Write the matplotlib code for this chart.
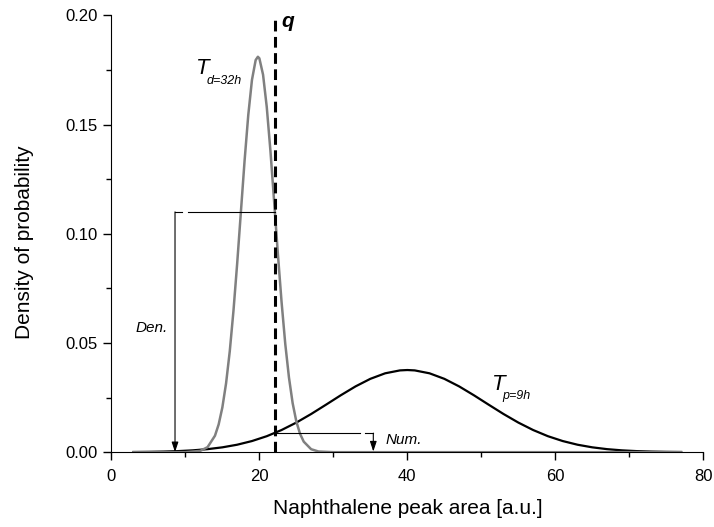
import matplotlib
matplotlib.use("Agg")
import matplotlib.pyplot as plt
from matplotlib.ticker import MultipleLocator

plt.rcParams["font.family"] = ["Liberation Sans", "DejaVu Sans"]

# density
x_d = [3, 10, 12, 13, 14, 14.5, 15, 15.5, 16, 16.5, 17, 17.5, 18, 18.5, 19, 19.5,
       19.8, 20, 20.5, 21, 21.5, 22, 22.5, 23, 23.5, 24, 24.5, 25, 25.5, 26,
       27, 28, 30, 77]
y_d = [0.0, 0.0, 0.00058, 0.00229, 0.00753, 0.01272, 0.0205, 0.0315, 0.0462, 0.0647,
       0.0863, 0.1098, 0.1333, 0.1543, 0.1704, 0.1795, 0.181, 0.1803, 0.1728,
       0.1580, 0.1378, 0.1146, 0.0909, 0.0688, 0.0496, 0.0342, 0.0224, 0.0140,
       0.0084, 0.0048, 0.00135, 0.0003, 0.0, 0.0]

x_p = [3, 5, 7, 9, 11, 13, 15, 17, 19, 21, 23, 25, 27, 29, 31, 33, 35, 37, 39,
       40, 41, 43, 45, 47, 49, 51, 53, 55, 57, 59, 61, 63, 65, 67, 69, 71, 73,
       75, 77]
y_p = [0.0000756, 0.000145, 0.000269, 0.000481, 0.00083, 0.00138, 0.00221,
       0.00341, 0.00509, 0.00731, 0.01014, 0.01355, 0.01747, 0.02172, 0.02604,
       0.03011, 0.03357, 0.0361, 0.03743, 0.0376, 0.03743, 0.0361, 0.03357,
       0.03011, 0.02604, 0.02172, 0.01747, 0.01355, 0.01014, 0.00731, 0.00509,
       0.00341, 0.00221, 0.00138, 0.00083, 0.000481, 0.000269, 0.000145,
       0.0000756]

q = 22.1
den_y = 0.110
num_y = 0.0087

fig = plt.figure(figsize=(7.14, 5.27), dpi=100)
ax = fig.add_axes([0.156, 0.142, 0.829, 0.829])

ax.plot(x_p, y_p, color="black", lw=1.6)
ax.plot(x_d, y_d, color="#808080", lw=1.8)
ax.axvline(q, color="black", lw=2.2, ls=(0, (3.5, 1.8)))

arrow = dict(arrowstyle="-|>,head_length=0.6,head_width=0.2",
             color="black", lw=0.8, shrinkA=0, shrinkB=0)

# Den. bracket
ax.plot([8.6, 9.6], [den_y, den_y], color="black", lw=0.8)
ax.plot([10.4, q], [den_y, den_y], color="black", lw=0.8)
ax.annotate("", xy=(8.6, 0.0), xytext=(8.6, den_y), arrowprops=arrow)
ax.text(3.2, 0.0569, "Den.", fontsize=11, style="italic", va="center")

# Num. bracket
ax.plot([q, 33.6], [num_y, num_y], color="black", lw=0.8)
ax.plot([34.3, 35.4], [num_y, num_y], color="black", lw=0.8)
ax.annotate("", xy=(35.4, 0.0003), xytext=(35.4, num_y), arrowprops=arrow)
ax.text(37.0, 0.0055, "Num.", fontsize=11, style="italic", va="center")

for tx, ty, sub in [(11.4, 0.1729, "d=32h"), (51.4, 0.0284, "p=9h")]:
    ax.text(tx, ty, "T", fontsize=16, style="italic")
    ax.annotate(sub, xy=(tx, ty), xytext=(7.5, -6.5), textcoords="offset points",
                fontsize=9, style="italic", va="baseline")

ax.text(23.0, 0.1945, "q", fontsize=15, style="italic", fontweight="bold")

ax.set_xlim(0, 80)
ax.set_ylim(0, 0.20)
ax.xaxis.set_major_locator(MultipleLocator(20))
ax.xaxis.set_minor_locator(MultipleLocator(10))
ax.yaxis.set_major_locator(MultipleLocator(0.05))
ax.yaxis.set_minor_locator(MultipleLocator(0.025))
ax.yaxis.set_major_formatter(plt.FuncFormatter(lambda v, p: f"{v:.2f}"))
ax.spines["top"].set_visible(False)
ax.spines["right"].set_visible(False)
ax.tick_params(which="major", direction="out", length=6, width=1, labelsize=12)
ax.tick_params(which="minor", direction="out", length=3.5, width=1)
ax.tick_params(axis="x", which="major", pad=6)
ax.tick_params(axis="y", which="major", pad=4)
ax.set_xlabel("Naphthalene peak area [a.u.]", fontsize=15, labelpad=11)
ax.set_ylabel("Density of probability", fontsize=15)
ax.yaxis.set_label_coords(-0.130, 0.48)

fig.savefig("out.png", dpi=100)
